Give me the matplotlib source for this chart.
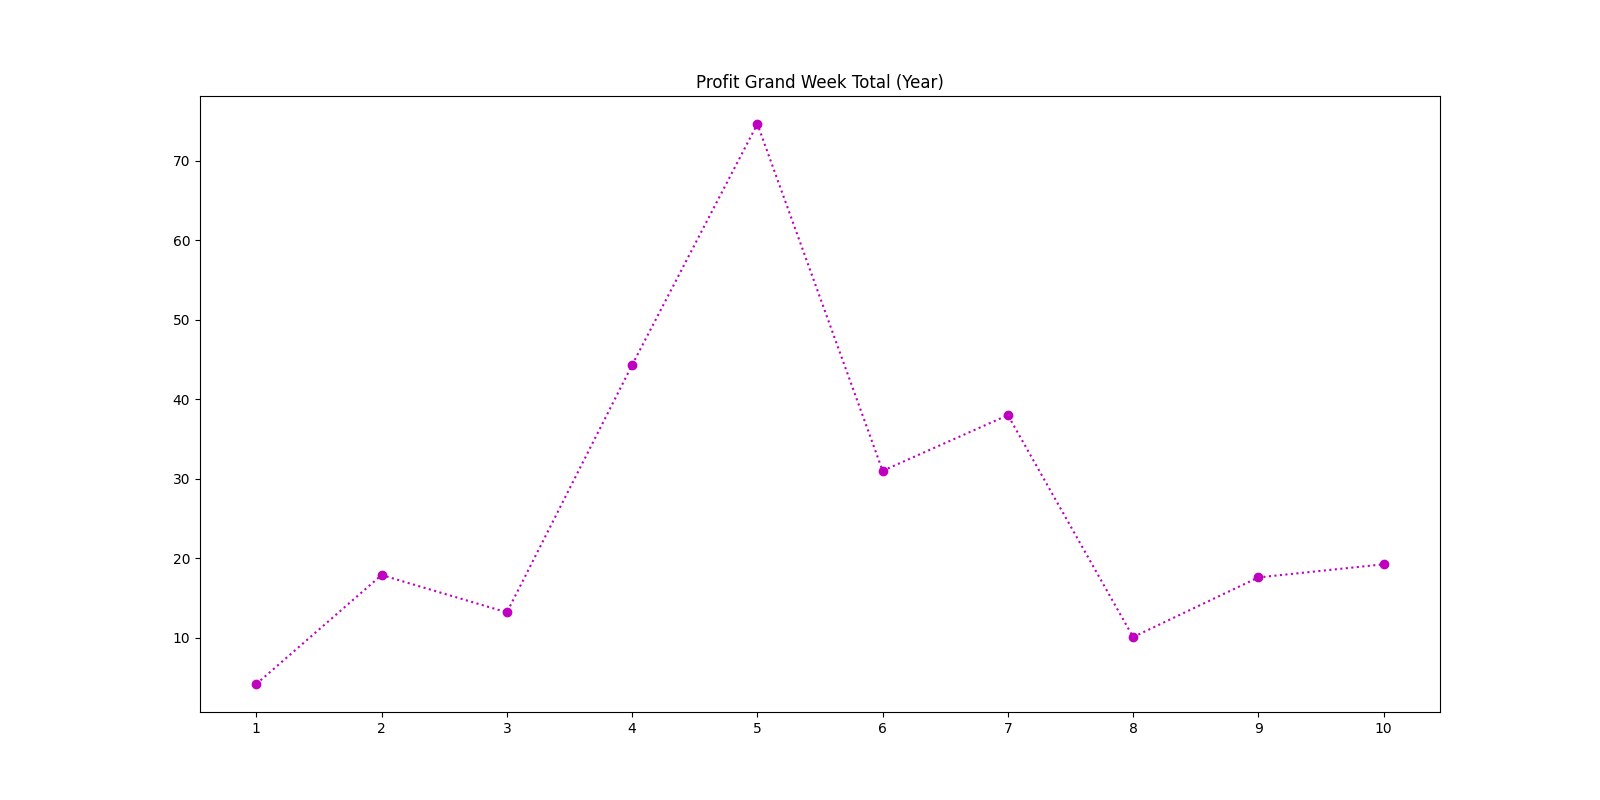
import matplotlib
matplotlib.use("Agg")
import matplotlib.pyplot as plt

weeks = [1, 2, 3, 4, 5, 6, 7, 8, 9, 10]
profit = [4.2, 17.9, 13.2, 44.3, 74.6, 31.0, 38.0, 10.1, 17.6, 19.25]

fig, ax = plt.subplots(figsize=(16, 8), dpi=100)
ax.plot(weeks, profit, color='m', marker='o', linestyle=':')
ax.set_xticks(weeks)
ax.set_title("Profit Grand Week Total (Year)")
fig.savefig("out.png")
